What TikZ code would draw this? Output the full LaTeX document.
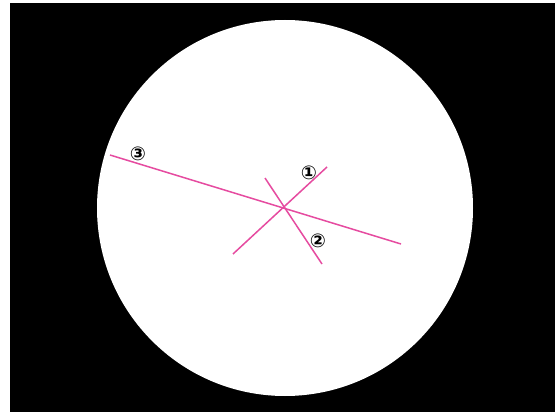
\documentclass[tikz,border=0pt]{standalone}
\usepackage{fontspec}
\newfontfamily\symfont{DejaVu Sans}
\definecolor{pinkline}{RGB}{230,75,160}
\begin{document}
\begin{tikzpicture}[x=1pt,y=-1pt,
  axisline/.style={draw=pinkline,line width=1.5pt},
  numlabel/.style={font=\symfont\fontsize{19}{19}\selectfont\bfseries,inner sep=0pt,text=black}]
\useasboundingbox (0,0) rectangle (555,412);
\fill[white] (0,0) rectangle (555,412);
\fill[black] (10,3) rectangle (555,412);
\fill[white] (285,208) circle (188);
\coordinate (a3) at (110,155);
\coordinate (b3) at (401,244);
\coordinate (a1) at (233,254);
\coordinate (b1) at (327,167);
\coordinate (a2) at (265,178);
\coordinate (b2) at (322,264);
\draw[axisline] (a3) -- (b3);
\draw[axisline] (a1) -- (b1);
\draw[axisline] (a2) -- (b2);
\node[numlabel] (l3) at (138,154) {③};
\node[numlabel] (l1) at (309,173) {①};
\node[numlabel] (l2) at (318,241) {②};
\end{tikzpicture}
\end{document}
